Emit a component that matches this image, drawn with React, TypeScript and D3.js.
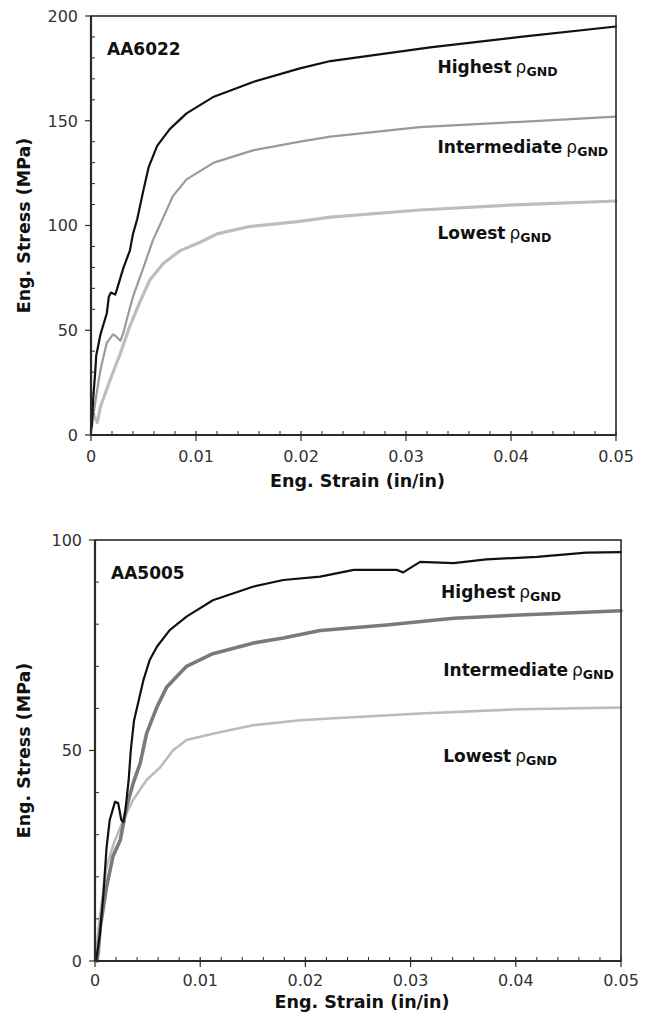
import * as d3 from 'd3'

type Pt = [number, number]

// AA6022 curves (strain, stress MPa)
const aa6022Highest: Pt[] = [
  [0, 2], [0.0001, 5], [0.0002, 17], [0.0004, 30], [0.0005, 38], [0.0007, 43], [0.0009, 48],
  [0.0012, 53], [0.0015, 58], [0.0017, 66], [0.0019, 68], [0.0023, 67], [0.0025, 70], [0.0028, 75],
  [0.0031, 80], [0.0034, 84], [0.0037, 88], [0.004, 96], [0.0044, 103], [0.005, 117], [0.0055, 128],
  [0.0063, 138], [0.0075, 146], [0.0091, 153.5], [0.0117, 161.5], [0.0155, 168.6], [0.0199, 175],
  [0.0228, 178.5], [0.0323, 185], [0.0409, 190], [0.05, 195],
]
const aa6022Intermediate: Pt[] = [
  [0, 4], [0.0003, 12], [0.0006, 22], [0.0009, 31], [0.0015, 44], [0.0021, 48], [0.0024, 47],
  [0.0028, 45], [0.0031, 49], [0.0034, 55], [0.004, 66], [0.005, 80], [0.0059, 93], [0.0069, 104],
  [0.0078, 114], [0.0091, 122], [0.0117, 130], [0.0155, 136], [0.0199, 140], [0.0228, 142.4],
  [0.0313, 147], [0.0409, 149.5], [0.05, 152],
]
const aa6022Lowest: Pt[] = [
  [0.0003, 9], [0.0006, 6], [0.0009, 13.5], [0.0018, 26], [0.0028, 39], [0.0037, 52], [0.0047, 64],
  [0.0056, 74], [0.0069, 82], [0.0085, 88], [0.0104, 92], [0.012, 96], [0.0151, 99.5], [0.0199, 102],
  [0.0228, 104], [0.0313, 107.4], [0.0409, 110], [0.05, 111.7],
]

// AA5005 curves
const aa5005Highest: Pt[] = [
  [0.0001, 0], [0.00016, 1], [0.00048, 6.6], [0.0008, 16], [0.0011, 27], [0.0014, 33.5],
  [0.0019, 37.8], [0.0022, 37.5], [0.0025, 33.5], [0.0027, 33], [0.0029, 36], [0.0032, 43],
  [0.0034, 50], [0.0037, 57], [0.0046, 66.7], [0.0052, 71.5], [0.0059, 74.7], [0.0071, 78.6],
  [0.0087, 81.8], [0.0112, 85.7], [0.015, 88.9], [0.0179, 90.5], [0.0214, 91.3], [0.0246, 92.9],
  [0.0287, 92.9], [0.0293, 92.3], [0.0309, 94.8], [0.0341, 94.5], [0.0372, 95.4], [0.042, 96],
  [0.0467, 97], [0.05, 97.1],
]
const aa5005Intermediate: Pt[] = [
  [0.0002, 0], [0.0003, 2], [0.0005, 8], [0.0011, 17.6], [0.0017, 24.8], [0.0024, 28.7],
  [0.003, 36.6], [0.0036, 42], [0.0043, 47], [0.0049, 54], [0.0059, 60.4], [0.0068, 65],
  [0.0087, 70], [0.0112, 73], [0.015, 75.5], [0.0179, 76.7], [0.0214, 78.5], [0.0277, 79.8],
  [0.0341, 81.4], [0.0404, 82.2], [0.05, 83.2],
]
const aa5005Lowest: Pt[] = [
  [0.0001, 0.2], [0.0003, 6.6], [0.0005, 11.3], [0.0011, 22.4], [0.0019, 28.7], [0.0027, 33.5],
  [0.0036, 38.2], [0.0049, 43], [0.0062, 46], [0.0074, 50], [0.0087, 52.5], [0.0112, 54],
  [0.015, 56], [0.0195, 57.2], [0.0223, 57.6], [0.0309, 58.8], [0.0404, 59.8], [0.05, 60.2],
]

const labelNames = ['Highest', 'Intermediate', 'Lowest']
const xTicks = [0, 0.01, 0.02, 0.03, 0.04, 0.05]
const xTickLabels = ['0', '0.01', '0.02', '0.03', '0.04', '0.05']

const FONT = 'DejaVu Sans, Arial, sans-serif'
const AXIS = '#2a2a2a'

type Series = { data: Pt[]; color: string; width: number }

type PanelProps = {
  title: string
  yMax: number
  yStep: number
  left: number
  right: number
  top: number
  bottom: number
  series: Series[]
  labelPos: Pt[]
  tickDy: number
  titleDy: number
}

function Panel({ title, yMax, yStep, left, right, top, bottom, series, labelPos, tickDy, titleDy }: PanelProps) {
  const x = d3.scaleLinear().domain([0, 0.05]).range([left, right])
  const y = d3.scaleLinear().domain([0, yMax]).range([bottom, top])
  const line = d3.line<Pt>().x(d => x(d[0])).y(d => y(d[1]))

  const yMajor = d3.range(0, yMax + 0.001, yStep)
  const yMinor = d3.range(0, yMax + 0.001, 10).filter(v => v % yStep !== 0)
  const xMinor = d3.range(0, 0.0501, 0.002).filter((v, i) => i % 5 !== 0)

  return (
    <g fontFamily={FONT}>
      {series.map((s, i) => (
        <path key={i} d={line(s.data) ?? ''} fill="none" stroke={s.color} strokeWidth={s.width}
          strokeLinejoin="round" strokeLinecap="round" />
      ))}

      {/* frame */}
      <rect x={left} y={top} width={right - left} height={bottom - top} fill="none" stroke={AXIS} strokeWidth={1.6} />
      <line x1={left} x2={left} y1={top} y2={bottom} stroke={AXIS} strokeWidth={2.2} />
      <line x1={left} x2={right} y1={bottom} y2={bottom} stroke={AXIS} strokeWidth={2.2} />

      {/* y ticks */}
      {yMajor.map(v => (
        <g key={'ym' + v}>
          <line x1={left - 6} x2={left} y1={y(v)} y2={y(v)} stroke={AXIS} strokeWidth={1.2} />
          <text x={left - 13} y={y(v)} dy="0.36em" textAnchor="end" fontSize={16} fill="#333">{v}</text>
        </g>
      ))}
      {yMinor.map(v => (
        <line key={'yn' + v} x1={left} x2={left + 4} y1={y(v)} y2={y(v)} stroke={AXIS} strokeWidth={1} />
      ))}

      {/* x ticks */}
      {xTicks.map((v, i) => (
        <g key={'xm' + v}>
          <line x1={x(v)} x2={x(v)} y1={bottom - 4} y2={bottom + 6} stroke={AXIS} strokeWidth={1.2} />
          <text x={x(v)} y={bottom + tickDy} textAnchor="middle" fontSize={16} fill="#333">{xTickLabels[i]}</text>
        </g>
      ))}
      {xMinor.map(v => (
        <line key={'xn' + v} x1={x(v)} x2={x(v)} y1={bottom - 4} y2={bottom} stroke={AXIS} strokeWidth={1} />
      ))}

      {/* axis titles */}
      <text x={(left + right) / 2 + 4} y={bottom + titleDy} textAnchor="middle" fontSize={17.5} fontWeight="bold" fill="#111">
        Eng. Strain (in/in)
      </text>
      <text transform={`translate(${30},${(top + bottom) / 2}) rotate(-90)`} textAnchor="middle" fontSize={17.5}
        fontWeight="bold" fill="#111">
        Eng. Stress (MPa)
      </text>

      <text x={left + 16} y={top + 39} fontSize={17} fontWeight="bold" fill="#111">{title}</text>

      {labelPos.map((p, i) => (
        <text key={i} x={x(p[0])} y={y(p[1])} fontSize={17} fontWeight="bold" fill="#111">
          {labelNames[i]}
          <tspan fontWeight="normal" dx={4}>ρ</tspan>
          <tspan fontSize={12.5} dy={3}>GND</tspan>
        </text>
      ))}
    </g>
  )
}

export default function App() {
  return (
    <svg width={650} height={1023} style={{ position: 'absolute', left: 0, top: 0, background: '#fff' }}>
      <Panel
        title="AA6022" yMax={200} yStep={50}
        left={91} right={616} top={16} bottom={435} tickDy={27} titleDy={52}
        series={[
          { data: aa6022Lowest, color: '#bdbdbd', width: 3.2 },
          { data: aa6022Intermediate, color: '#9a9a9a', width: 2.2 },
          { data: aa6022Highest, color: '#111', width: 2.2 },
        ]}
        labelPos={[[0.033, 172.8], [0.033, 134.6], [0.033, 93.6]]}
      />
      <Panel
        title="AA5005" yMax={100} yStep={50}
        left={95} right={621} top={540} bottom={961} tickDy={25} titleDy={47}
        series={[
          { data: aa5005Lowest, color: '#bbbbbb', width: 2.6 },
          { data: aa5005Intermediate, color: '#7a7a7a', width: 3.6 },
          { data: aa5005Highest, color: '#111', width: 2.2 },
        ]}
        labelPos={[[0.0329, 86.2], [0.0331, 67.7], [0.0331, 47.3]]}
      />
    </svg>
  )
}
